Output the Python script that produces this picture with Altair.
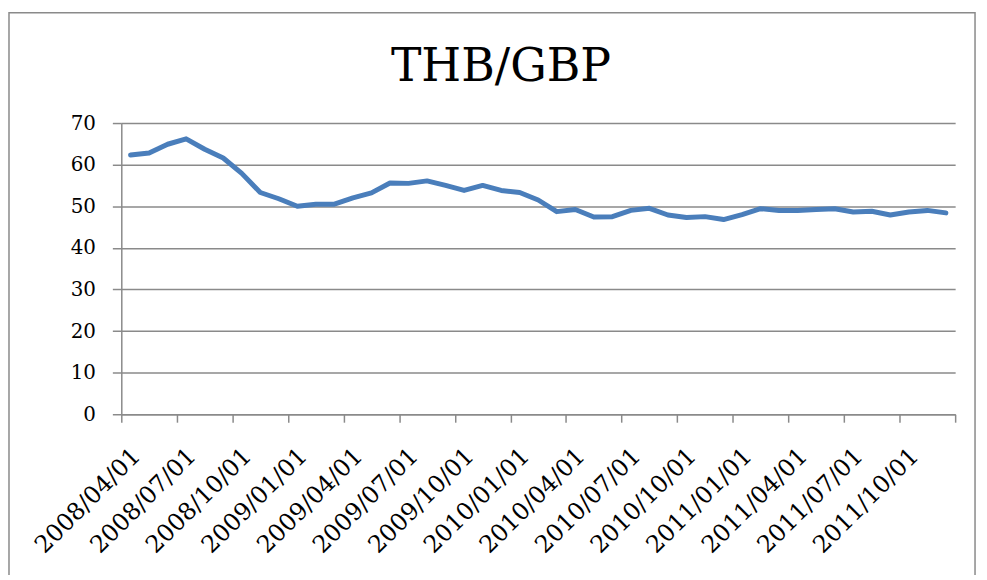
import json
import altair as alt
import pandas as pd

# Monthly THB/GBP values, 2008/04 .. 2011/12
months = [
    "2008/04/01", "2008/05/01", "2008/06/01", "2008/07/01", "2008/08/01", "2008/09/01",
    "2008/10/01", "2008/11/01", "2008/12/01", "2009/01/01", "2009/02/01", "2009/03/01",
    "2009/04/01", "2009/05/01", "2009/06/01", "2009/07/01", "2009/08/01", "2009/09/01",
    "2009/10/01", "2009/11/01", "2009/12/01", "2010/01/01", "2010/02/01", "2010/03/01",
    "2010/04/01", "2010/05/01", "2010/06/01", "2010/07/01", "2010/08/01", "2010/09/01",
    "2010/10/01", "2010/11/01", "2010/12/01", "2011/01/01", "2011/02/01", "2011/03/01",
    "2011/04/01", "2011/05/01", "2011/06/01", "2011/07/01", "2011/08/01", "2011/09/01",
    "2011/10/01", "2011/11/01", "2011/12/01",
]
values = [
    62.3, 62.8, 64.9, 66.2, 63.7, 61.6, 57.9, 53.3, 51.8, 50.0, 50.5, 50.5,
    52.0, 53.2, 55.6, 55.5, 56.1, 55.0, 53.8, 55.0, 53.8, 53.3, 51.5, 48.7,
    49.2, 47.4, 47.5, 49.0, 49.5, 47.9, 47.3, 47.5, 46.8, 48.0, 49.4, 49.0,
    49.0, 49.2, 49.4, 48.6, 48.8, 47.9, 48.6, 49.0, 48.4,
]
tick_labels = [
    "2008/04/01", "2008/07/01", "2008/10/01", "2009/01/01", "2009/04/01",
    "2009/07/01", "2009/10/01", "2010/01/01", "2010/04/01", "2010/07/01",
    "2010/10/01", "2011/01/01", "2011/04/01", "2011/07/01", "2011/10/01",
]
y_ticks = [0, 10, 20, 30, 40, 50, 60, 70]
title_text = "THB/GBP"

df = pd.DataFrame({"idx": list(range(len(values))), "month": months, "value": values})
n = len(values)

GRAY = "#8a8a8a"
FONT = "DejaVu Serif"

label_expr = f"datum.value < {n} ? {json.dumps(tick_labels)}[floor(datum.value / 3)] : ''"

line = (
    alt.Chart(df)
    .transform_calculate(pos="datum.idx + 0.5")
    .mark_line(color="#4a7ebb", strokeWidth=5, strokeCap="round", strokeJoin="round")
    .encode(
        x=alt.X(
            "pos:Q",
            scale=alt.Scale(domain=[0, n], nice=False, zero=False),
            axis=alt.Axis(
                values=list(range(0, n + 1, 3)),
                labelExpr=label_expr,
                title=None,
                grid=False,
                tickSize=8,
                tickColor=GRAY,
                tickWidth=1.5,
                domainColor=GRAY,
                domainWidth=1.5,
                labelAngle=315,
                labelAlign="right",
                labelBaseline="middle",
                labelPadding=30,
                labelOffset=15,
                labelFont=FONT,
                labelFontSize=24,
                labelColor="black",
                labelOverlap=False,
                labelFlush=False,
                labelBound=False,
            ),
        ),
        y=alt.Y(
            "value:Q",
            scale=alt.Scale(domain=[0, 70], nice=False),
            axis=alt.Axis(
                values=y_ticks,
                title=None,
                grid=True,
                gridColor=GRAY,
                gridWidth=1.5,
                tickSize=9,
                tickColor=GRAY,
                tickWidth=1.5,
                domainColor=GRAY,
                domainWidth=1.5,
                labelPadding=17,
                labelFont=FONT,
                labelFontSize=20,
                labelColor="black",
            ),
        ),
    )
)

one_row = pd.DataFrame({"t": [title_text]})

border = (
    alt.Chart(one_row)
    .mark_rect(fill=None, stroke=GRAY, strokeWidth=1.5)
    .encode(
        x=alt.value(-113),
        x2=alt.value(859),
        y=alt.value(-111),
        y2=alt.value(500),
    )
)

title = (
    alt.Chart(one_row)
    .mark_text(font=FONT, fontSize=46, color="black", align="center", baseline="alphabetic")
    .encode(text="t:N", x=alt.value(382), y=alt.value(-42))
)

chart = (
    alt.layer(border, title, line)
    .properties(
        width=839,
        height=293,
        autosize=alt.AutoSizeParams(type="none"),
        padding={"left": 114, "top": 114, "right": 24, "bottom": 160},
    )
    .configure_view(stroke=None)
)

chart.save("out.html", embed_options={"renderer": "svg", "actions": False})
